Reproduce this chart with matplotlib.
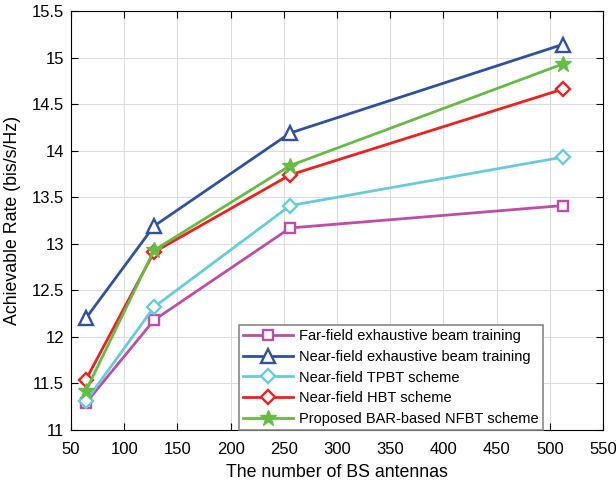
import matplotlib
matplotlib.use("Agg")
import matplotlib.pyplot as plt

plt.rcParams['font.family'] = ['Liberation Sans', 'DejaVu Sans']

# === Dados ===
antenas = [64, 128, 256, 512]
far_exaustivo = [11.29, 12.18, 13.17, 13.41]
near_exaustivo = [12.20, 13.19, 14.19, 15.14]
tpbt = [11.31, 12.32, 13.41, 13.93]
hbt = [11.54, 12.91, 13.74, 14.66]
proposto = [11.42, 12.93, 13.84, 14.93]

rotulos = [
    "Far-field exhaustive beam training",
    "Near-field exhaustive beam training",
    "Near-field TPBT scheme",
    "Near-field HBT scheme",
    "Proposed BAR-based NFBT scheme",
]

series = [far_exaustivo, near_exaustivo, tpbt, hbt, proposto]
cores = ['#BF4DA6', '#3050A0', '#66CCDD', '#EE2020', '#66BB44']
marcadores = ['s', '^', 'D', 'D', '*']
tamanhos = [7.5, 9.5, 7, 7, 12]

# === Plot ===
fig = plt.figure(figsize=(6.16, 4.87), dpi=100)
ax = fig.add_axes([71 / 616, 1 - 430 / 487, 532 / 616, 419 / 487])

for ys, lab, c, m, ms in zip(series, rotulos, cores, marcadores, tamanhos):
    if m == '*':
        ax.plot(antenas, ys, color=c, lw=2, marker=m, ms=ms, mfc=c, mec=c, label=lab)
    else:
        ax.plot(antenas, ys, color=c, lw=2, marker=m, ms=ms,
                mfc='white', mec=c, mew=1.7, label=lab)

ax.set_xlim(50, 550)
ax.set_ylim(11, 15.5)
ax.set_xticks(range(50, 551, 50))
ax.set_yticks([11, 11.5, 12, 12.5, 13, 13.5, 14, 14.5, 15, 15.5])
ax.set_yticklabels(['11', '11.5', '12', '12.5', '13', '13.5', '14', '14.5', '15', '15.5'])
ax.grid(True, color='#DDDDDD', lw=0.8)
ax.set_axisbelow(True)
ax.tick_params(direction='in', top=True, right=True, labelsize=12, length=5)
ax.tick_params(axis='x', pad=9)
ax.tick_params(axis='y', pad=5)
for s in ax.spines.values():
    s.set_linewidth(0.8)

ax.set_xlabel("The number of BS antennas", fontsize=12.8, labelpad=5)
ax.set_ylabel("Achievable Rate (bis/s/Hz)", fontsize=12.8, labelpad=8)

leg = ax.legend(loc='lower right', bbox_to_anchor=(0.887, 0.0), fontsize=10.5,
                fancybox=False, edgecolor='#888888', framealpha=1,
                handlelength=3.4, borderpad=0.3, labelspacing=0.45, borderaxespad=0.0,
                handletextpad=0.4)
leg.get_frame().set_linewidth(1.2)

plt.savefig("out.png", dpi=100)
